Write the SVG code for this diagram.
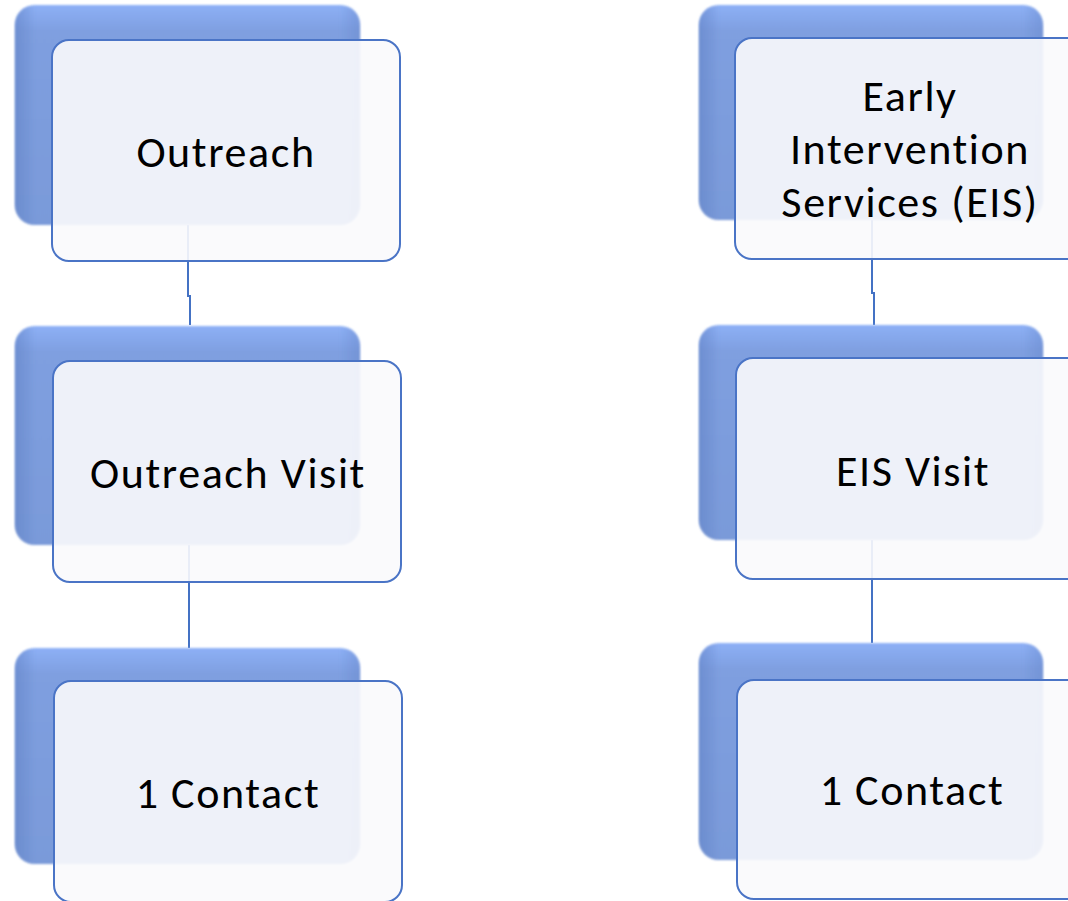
<svg xmlns="http://www.w3.org/2000/svg" width="1068" height="901" viewBox="0 0 1068 901">
  <defs>
    <linearGradient id="backFill" x1="0" y1="0" x2="0" y2="1">
      <stop offset="0" stop-color="#8db0f6"/>
      <stop offset="0.12" stop-color="#7f9fe0"/>
      <stop offset="1" stop-color="#7a9ad9"/>
    </linearGradient>
    <linearGradient id="backEdge" x1="0" y1="0" x2="1" y2="0">
      <stop offset="0" stop-color="#5f80c4" stop-opacity="0.55"/>
      <stop offset="0.06" stop-color="#5f80c4" stop-opacity="0"/>
      <stop offset="0.94" stop-color="#5f80c4" stop-opacity="0"/>
      <stop offset="1" stop-color="#5f80c4" stop-opacity="0.35"/>
    </linearGradient>
    <filter id="soft" x="-5%" y="-5%" width="110%" height="110%">
      <feGaussianBlur stdDeviation="1.2"/>
    </filter>
  </defs>
  <style>
    .back { fill: url(#backFill); filter: url(#soft); }
    .backEdge { fill: url(#backEdge); filter: url(#soft); }
    .front { fill: #fafafc; fill-opacity: 0.91; stroke: #4a74c6; stroke-width: 2; }
    .link { fill: none; stroke: #4472c4; stroke-width: 2; }
    .label { font-family: Carlito, Lato, "Liberation Sans", sans-serif; font-size: 44px; letter-spacing: 1.6px; fill: #000; text-anchor: middle; }
  </style>

  <rect width="1068" height="901" fill="#ffffff"/>

  <!-- connectors -->
  <g id="connectors">
    <path class="link" d="M188,225 V296 H190 V325"/>
    <path class="link" d="M189,545 V648"/>
    <path class="link" d="M872,220 V293 H874 V325"/>
    <path class="link" d="M872,540 V643"/>
  </g>

  <!-- left column -->
  <g id="outreach">
    <rect class="back" x="15" y="5" width="345" height="220" rx="20"/>
    <rect class="backEdge" x="15" y="5" width="345" height="220" rx="20"/>
    <rect class="front" x="52" y="40" width="348" height="221" rx="17"/>
    <text class="label" x="226" y="167">Outreach</text>
  </g>
  <g id="outreach-visit">
    <rect class="back" x="15" y="326" width="345" height="219" rx="20"/>
    <rect class="backEdge" x="15" y="326" width="345" height="219" rx="20"/>
    <rect class="front" x="53" y="361" width="348" height="221" rx="17"/>
    <text class="label" x="228" y="488">Outreach Visit</text>
  </g>
  <g id="outreach-contact">
    <rect class="back" x="15" y="648" width="345" height="216" rx="20"/>
    <rect class="backEdge" x="15" y="648" width="345" height="216" rx="20"/>
    <rect class="front" x="54" y="681" width="348" height="221" rx="17"/>
    <text class="label" x="228" y="808">1 Contact</text>
  </g>

  <!-- right column -->
  <g id="eis">
    <rect class="back" x="699" y="5" width="344" height="215" rx="20"/>
    <rect class="backEdge" x="699" y="5" width="344" height="215" rx="20"/>
    <rect class="front" x="735" y="38" width="348" height="221" rx="17"/>
    <text class="label" x="910" y="111">Early</text>
    <text class="label" x="910" y="164">Intervention</text>
    <text class="label" x="910" y="217">Services (EIS)</text>
  </g>
  <g id="eis-visit">
    <rect class="back" x="699" y="325" width="344" height="215" rx="20"/>
    <rect class="backEdge" x="699" y="325" width="344" height="215" rx="20"/>
    <rect class="front" x="736" y="358" width="348" height="221" rx="17"/>
    <text class="label" x="913" y="486">EIS Visit</text>
  </g>
  <g id="eis-contact">
    <rect class="back" x="699" y="643" width="344" height="217" rx="20"/>
    <rect class="backEdge" x="699" y="643" width="344" height="217" rx="20"/>
    <rect class="front" x="737" y="680" width="348" height="219" rx="17"/>
    <text class="label" x="912" y="805">1 Contact</text>
  </g>
</svg>
